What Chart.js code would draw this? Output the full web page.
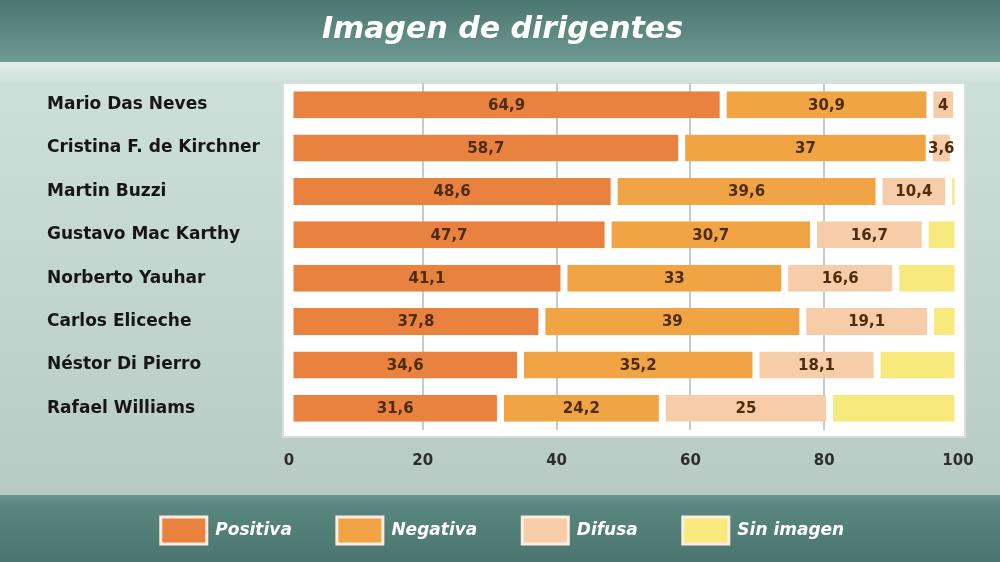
<!DOCTYPE html>
<html>
<head>
<meta charset="utf-8">
<script src="https://cdn.jsdelivr.net/npm/chart.js@4.4.1/dist/chart.umd.min.js"></script>
<style>
  html, body { margin: 0; padding: 0; background: #c5d8d2; }
  #wrap { width: 1000px; height: 562px; position: relative; }
</style>
</head>
<body>
<div id="wrap"><canvas id="dirigentesChart"></canvas></div>
<script>
const nombres = ['Mario Das Neves', 'Cristina F. de Kirchner', 'Martin Buzzi', 'Gustavo Mac Karthy',
  'Norberto Yauhar', 'Carlos Eliceche', 'Néstor Di Pierro', 'Rafael Williams'];
const positiva = [64.9, 58.7, 48.6, 47.7, 41.1, 37.8, 34.6, 31.6];
const negativa = [30.9, 37, 39.6, 30.7, 33, 39, 35.2, 24.2];
const difusa = [4, 3.6, 10.4, 16.7, 16.6, 19.1, 18.1, 25];
const sinImagen = [null, null, 1.4, 4.9, 9.3, 4.1, 12.1, 19.2];
const xTicks = [0, 20, 40, 60, 80, 100];

const colPositiva = '#e9813f';
const colNegativa = '#f1a443';
const colDifusa = '#f6cda8';
const colSinImagen = '#f8e97c';

// fondo: banda del título, panel blanco, banda de la leyenda
const fondoPlugin = {
  id: 'fondo',
  beforeDraw(chart) {
    const { ctx, chartArea: a, width, height } = chart;
    ctx.save();
    let g = ctx.createLinearGradient(0, 62, 0, 495);
    g.addColorStop(0, '#e3eeea');
    g.addColorStop(0.05, '#cddfd9');
    g.addColorStop(1, '#b7cbc4');
    ctx.fillStyle = g;
    ctx.fillRect(0, 0, width, height);

    g = ctx.createLinearGradient(0, 0, 0, 62);
    g.addColorStop(0, '#4a7770');
    g.addColorStop(1, '#6f9993');
    ctx.fillStyle = g;
    ctx.fillRect(0, 0, width, 62);

    g = ctx.createLinearGradient(0, 495, 0, height);
    g.addColorStop(0, '#6b958f');
    g.addColorStop(0.15, '#5a8680');
    g.addColorStop(1, '#4a766f');
    ctx.fillStyle = g;
    ctx.fillRect(0, 495, width, height - 495);

    ctx.fillStyle = '#ffffff';
    ctx.strokeStyle = '#d6dfdc';
    ctx.lineWidth = 2;
    ctx.fillRect(a.left - 6, a.top, a.width + 13, a.height + 7);
    ctx.strokeRect(a.left - 6, a.top, a.width + 13, a.height + 7);
    ctx.restore();
  }
};

// valores dentro de las barras
const valoresPlugin = {
  id: 'valores',
  afterDatasetsDraw(chart) {
    const { ctx } = chart;
    ctx.save();
    ctx.font = 'bold 15px "DejaVu Sans", sans-serif';
    ctx.fillStyle = '#4e2c10';
    ctx.textAlign = 'center';
    ctx.textBaseline = 'middle';
    [0, 1, 2].forEach(i => {
      const ds = chart.data.datasets[i];
      chart.getDatasetMeta(i).data.forEach((bar, j) => {
        const v = ds.data[j];
        if (v == null) return;
        ctx.fillText(String(v).replace('.', ','), (bar.x + bar.base) / 2, bar.y + 1);
      });
    });
    ctx.restore();
  }
};

const barStyle = {
  borderColor: '#ffffff',
  borderWidth: { left: 3.5, right: 3.5, top: 0, bottom: 0 },
  borderSkipped: false,
  barPercentage: 0.62,
  categoryPercentage: 1
};

new Chart(document.getElementById('dirigentesChart'), {
  type: 'bar',
  data: {
    labels: nombres,
    datasets: [
      { label: 'Positiva', data: positiva, backgroundColor: colPositiva, ...barStyle },
      { label: 'Negativa', data: negativa, backgroundColor: colNegativa, ...barStyle },
      { label: 'Difusa', data: difusa, backgroundColor: colDifusa, ...barStyle },
      { label: 'Sin imagen', data: sinImagen, backgroundColor: colSinImagen, ...barStyle }
    ]
  },
  options: {
    indexAxis: 'y',
    responsive: true,
    maintainAspectRatio: false,
    animation: false,
    layout: { padding: { left: 47, right: 42, top: 0, bottom: 8 } },
    scales: {
      x: {
        stacked: true,
        min: 0, max: 100,
        afterBuildTicks: s => { s.ticks = xTicks.map(v => ({ value: v })); },
        afterFit: s => { s.height = 42; },
        border: { display: false },
        grid: {
          drawTicks: false,
          lineWidth: 2,
          color: c => (c.tick && (c.tick.value === 0 || c.tick.value === 100)) ? 'rgba(0,0,0,0)' : '#c3cccc'
        },
        ticks: { padding: 22, color: '#2e2e2e', font: { family: 'DejaVu Sans', size: 15, weight: 'bold' } }
      },
      y: {
        stacked: true,
        border: { display: false },
        grid: { display: false },
        afterFit: s => { s.width = 242; },
        ticks: {
          crossAlign: 'far',
          color: '#161616',
          font: { family: 'DejaVu Sans', size: 17, weight: 'bold' }
        }
      }
    },
    plugins: {
      title: {
        display: true,
        text: 'Imagen de dirigentes',
        color: '#ffffff',
        font: { family: 'DejaVu Sans', size: 30, weight: 'bold', style: 'italic' },
        padding: { top: 12, bottom: 35 }
      },
      legend: {
        position: 'bottom',
        labels: {
          color: '#ffffff',
          boxWidth: 46,
          boxHeight: 27,
          padding: 45,
          font: { family: 'DejaVu Sans', size: 17, weight: 'bold', style: 'italic' },
          generateLabels: chart => Chart.defaults.plugins.legend.labels.generateLabels(chart).map(l => {
            l.lineWidth = 3;
            l.strokeStyle = '#fbeee0';
            return l;
          })
        }
      },
      tooltip: { enabled: false }
    }
  },
  plugins: [fondoPlugin, valoresPlugin]
});
</script>
</body>
</html>
